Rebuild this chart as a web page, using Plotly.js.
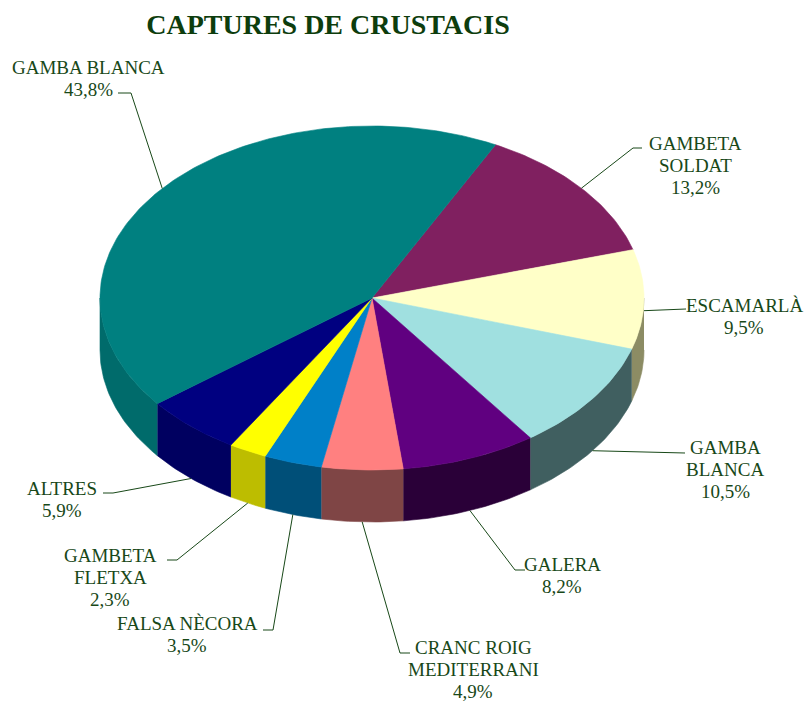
<!DOCTYPE html>
<html><head><meta charset="utf-8">
<script src="https://cdn.plot.ly/plotly-3.0.1.min.js"></script>
<style>html,body{margin:0;padding:0;background:#fff}#chart{width:808px;height:701px}</style>
</head><body><div id="chart"></div>
<script>
// ---- data ----
const categories = ["GAMBETA SOLDAT", "ESCAMARLÀ", "GAMBA BLANCA", "GALERA", "CRANC ROIG MEDITERRANI", "FALSA NÈCORA", "GAMBETA FLETXA", "ALTRES", "GAMBA BLANCA"];
const labelLines = [["GAMBETA", "SOLDAT"], ["ESCAMARLÀ"], ["GAMBA", "BLANCA"], ["GALERA"], ["CRANC ROIG", "MEDITERRANI"], ["FALSA NÈCORA"], ["GAMBETA", "FLETXA"], ["ALTRES"], ["GAMBA BLANCA"]];
const percentages = [13.2, 9.5, 10.5, 8.2, 4.9, 3.5, 2.3, 5.9, 43.8];

// ---- styles ----
const topColors  = ["#802060", "#FFFFC8", "#A0E0E0", "#600080", "#FF8080", "#0080C8", "#FFFF00", "#000080", "#008080"];
const sideColors = ["#501040", "#8C8C64", "#405F60", "#2A0038", "#7F4545", "#004F78", "#BDBD00", "#000060", "#006B6B"];
const textColor = "#184818";
const titleColor = "#0D3D0D";
const fontFam = '"Liberation Serif", "Times New Roman", Times, serif';

// ---- geometry (pixel-space layout) ----
const W = 808, H = 701;
const cx = 372, cy = 298, rx = 272, ry = 172, depth = 52, startAngle = 27;
// label placement: first-line centre, leader elbow, leader end (pixels)
const labelLayout = [
  {x: 695, y: 143, ex: 633, ey: 148, hx: 642},
  {x: 744, y: 305, ex: 676, ey: 309, hx: 686},
  {x: 725, y: 447, ex: 678, ey: 453, hx: 685},
  {x: 562, y: 564, ex: 515, ey: 570, hx: 525},
  {x: 473, y: 647, ex: 400, ey: 653, hx: 410},
  {x: 187, y: 623, ex: 273, ey: 630, hx: 263},
  {x: 110, y: 555, ex: 177, ey: 560, hx: 167},
  {x: 62,  y: 488, ex: 113, ey: 493, hx: 103},
  {x: 88,  y: 67,  ex: 131, ey: 93,  hx: 118}
];
const lineGap = 22;

const rad = d => d * Math.PI / 180;
function pt(theta, dy) {
  return [cx + rx * Math.sin(rad(theta)), cy - ry * Math.cos(rad(theta)) + (dy || 0)];
}
function arc(a0, a1, dy) {
  const n = Math.max(2, Math.ceil(Math.abs(a1 - a0)));
  const xs = [], ys = [];
  for (let i = 0; i <= n; i++) {
    const p = pt(a0 + (a1 - a0) * i / n, dy);
    xs.push(p[0]); ys.push(p[1]);
  }
  return [xs, ys];
}

const total = percentages.reduce((a, b) => a + b, 0);
const slices = [];
let acc = startAngle;
percentages.forEach((v, i) => {
  const span = v / total * 360;
  slices.push({a0: acc, a1: acc + span, mid: acc + span / 2});
  acc += span;
});

const traces = [];
// side walls (front half: 90..270 deg)
slices.forEach((s, i) => {
  const lo = Math.max(s.a0, 90), hi = Math.min(s.a1, 270);
  if (hi <= lo) return;
  const t = arc(lo, hi, 0), b = arc(hi, lo, depth);
  traces.push({
    type: "scatter", mode: "lines", fill: "toself",
    x: t[0].concat(b[0]), y: t[1].concat(b[1]),
    fillcolor: sideColors[i], line: {color: sideColors[i], width: 0.6},
    hoverinfo: "skip", showlegend: false
  });
});
// top faces
slices.forEach((s, i) => {
  const a = arc(s.a0, s.a1, 0);
  traces.push({
    type: "scatter", mode: "lines", fill: "toself",
    x: [cx].concat(a[0], [cx]), y: [cy].concat(a[1], [cy]),
    fillcolor: topColors[i], line: {color: topColors[i], width: 0.6},
    name: categories[i], text: percentages[i].toFixed(1).replace(".", ",") + "%",
    hoverinfo: "name+text", showlegend: false
  });
});
// leader lines
slices.forEach((s, i) => {
  const c = Math.cos(rad(s.mid));
  const off = depth * Math.min(1, Math.max(0, 0.2 - 2 * c));
  const p = pt(s.mid, off);
  const L = labelLayout[i];
  traces.push({
    type: "scatter", mode: "lines",
    x: [p[0], L.ex, L.hx], y: [p[1], L.ey, L.ey],
    line: {color: textColor, width: 1}, hoverinfo: "skip", showlegend: false
  });
});

// labels
const annotations = [];
labelLines.forEach((lines, i) => {
  const L = labelLayout[i];
  const all = lines.concat([percentages[i].toFixed(1).replace(".", ",") + "%"]);
  all.forEach((txt, k) => {
    annotations.push({
      x: L.x, y: L.y + k * lineGap, xref: "x", yref: "y",
      text: txt, showarrow: false, xanchor: "center", yanchor: "middle",
      font: {family: fontFam, size: 19, color: textColor}
    });
  });
});

const layout = {
  width: W, height: H,
  margin: {l: 0, r: 0, t: 0, b: 0},
  paper_bgcolor: "#ffffff", plot_bgcolor: "#ffffff",
  font: {family: fontFam},
  title: {
    text: "<b>CAPTURES DE CRUSTACIS</b>",
    x: 328 / W, y: 1 - 24 / H, xref: "container", yref: "container",
    xanchor: "center", yanchor: "middle",
    font: {family: fontFam, size: 28, color: titleColor}
  },
  xaxis: {range: [0, W], visible: false, fixedrange: true},
  yaxis: {range: [H, 0], visible: false, fixedrange: true},
  annotations: annotations,
  showlegend: false
};

Plotly.newPlot("chart", traces, layout, {staticPlot: true, displayModeBar: false});
</script>
</body></html>
